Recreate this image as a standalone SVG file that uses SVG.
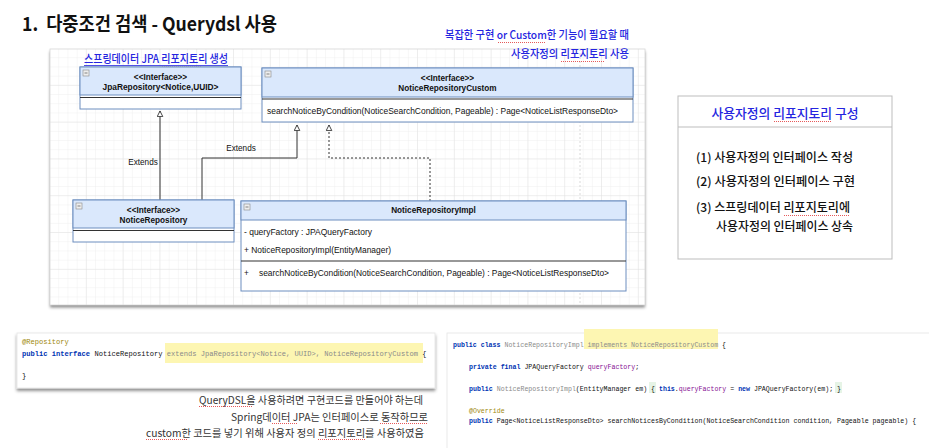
<svg xmlns="http://www.w3.org/2000/svg" width="929" height="448" viewBox="0 0 929 448">
<defs>
<pattern id="minor" width="9.2" height="9.2" patternUnits="userSpaceOnUse" x="50" y="49">
<path d="M9.2 0V9.2H0" fill="none" stroke="#ececec" stroke-width="0.8"/>
</pattern>
<pattern id="major" width="36.8" height="36.8" patternUnits="userSpaceOnUse" x="50" y="49">
<path d="M36.8 0V36.8H0" fill="none" stroke="#dedede" stroke-width="0.8"/>
</pattern>
<filter id="sh" x="-5%" y="-5%" width="110%" height="120%">
<feDropShadow dx="0" dy="2.5" stdDeviation="1.5" flood-color="#000" flood-opacity="0.45"/>
</filter>
<marker id="tri" viewBox="0 0 10 10" refX="9" refY="5" markerWidth="7" markerHeight="7" markerUnits="userSpaceOnUse" orient="auto">
<path d="M1 1L9 5L1 9Z" fill="#fff" stroke="#333" stroke-width="1.3"/>
</marker>
<style>
.hdr{fill:#dae8fc;stroke:#6c8ebf;stroke-width:1}
.body{fill:#fff;stroke:#6c8ebf;stroke-width:1}
.sep{stroke:#333;stroke-width:1.2}
.uml{font-family:"Liberation Sans",Arial,sans-serif;font-size:8.2px;fill:#111}
.b{font-weight:bold}
.ico{fill:#eee;stroke:#888;stroke-width:0.6}
.ln{fill:none;stroke:#333;stroke-width:1}
.kr{font-family:"Noto Sans CJK KR",sans-serif}
.blue{fill:#2424e0}
.rd{stroke:#e03030;stroke-width:0.8;stroke-dasharray:1 1}
.mono{font-family:"Liberation Mono","DejaVu Sans Mono",monospace}
.kw{fill:#0033b3;font-weight:bold}
.gr{fill:#8a8a8a}
.an{fill:#9e880d}
.pu{fill:#871094}
</style>
</defs>
<rect width="929" height="448" fill="#fff"/>

<!-- title -->
<text x="22" y="31" class="kr" font-size="19" font-weight="bold" fill="#111" textLength="255" lengthAdjust="spacingAndGlyphs">1.&#160;&#160;다중조건 검색 - Querydsl 사용</text>

<!-- grid panel -->
<g id="panel">
<rect x="50" y="49" width="595" height="256" fill="#fff" filter="url(#sh)"/>
<rect x="50" y="49" width="595" height="256" fill="url(#minor)"/>
<rect x="50" y="49" width="595" height="256" fill="url(#major)"/>
<rect x="50" y="49" width="595" height="256" fill="none" stroke="#d8d8d8" stroke-width="0.8"/>
<line x1="580" y1="49" x2="580" y2="305" stroke="#cfcfcf" stroke-width="0.8" stroke-dasharray="2 2"/>
</g>

<!-- blue annotations -->
<g id="note-top">
<text x="629" y="39" text-anchor="end" class="kr blue" font-size="11" font-weight="500" textLength="184" lengthAdjust="spacingAndGlyphs">복잡한 구현 or Custom한 기능이 필요할 때</text>
<text x="629" y="58" text-anchor="end" class="kr blue" font-size="11" font-weight="500" textLength="118" lengthAdjust="spacingAndGlyphs">사용자정의 리포지토리 사용</text>
<line x1="498" y1="42.5" x2="545" y2="42.5" class="rd"/>
<line x1="561" y1="61.5" x2="604" y2="61.5" class="rd"/>
</g>
<g id="note-jpa">
<text x="84" y="63" class="kr blue" font-size="11" font-weight="500" textLength="144" lengthAdjust="spacingAndGlyphs">스프링데이터 JPA 리포지토리 생성</text>
<line x1="84" y1="65.5" x2="228" y2="65.5" stroke="#2424e0" stroke-width="0.8"/>
<line x1="162" y1="67" x2="202" y2="67" class="rd"/>
</g>

<!-- connectors -->
<g id="connectors">
<path d="M160 200V111" class="ln" marker-end="url(#tri)"/>
<path d="M202 200V158H297V125" class="ln" marker-end="url(#tri)"/>
<path d="M430 201V158H329V125" class="ln" stroke-dasharray="2 2" marker-end="url(#tri)"/>
<text x="143" y="165" text-anchor="middle" class="uml" font-size="8.5">Extends</text>
<text x="241" y="151" text-anchor="middle" class="uml" font-size="8.5">Extends</text>
</g>

<!-- JpaRepository -->
<g id="jpa-repository">
<rect x="80" y="67" width="161" height="42" class="body"/>
<rect x="80" y="67" width="161" height="28" class="hdr"/>
<line x1="80" y1="97.5" x2="241" y2="97.5" class="sep"/>
<rect x="83" y="70" width="6" height="6" class="ico"/><line x1="84.5" y1="73" x2="87.5" y2="73" stroke="#555" stroke-width="0.7"/>
<text x="160.5" y="80" text-anchor="middle" class="uml b">&lt;&lt;Interface&gt;&gt;</text>
<text x="160.5" y="90" text-anchor="middle" class="uml b" textLength="116" lengthAdjust="spacingAndGlyphs">JpaRepository&lt;Notice,UUID&gt;</text>
</g>

<!-- NoticeRepositoryCustom -->
<g id="notice-repository-custom">
<rect x="262" y="68" width="371" height="54" class="body"/>
<rect x="262" y="68" width="371" height="29" class="hdr"/>
<line x1="262" y1="99" x2="633" y2="99" class="sep"/>
<rect x="265" y="71" width="6" height="6" class="ico"/><line x1="266.5" y1="74" x2="269.5" y2="74" stroke="#555" stroke-width="0.7"/>
<text x="447.5" y="81" text-anchor="middle" class="uml b">&lt;&lt;Interface&gt;&gt;</text>
<text x="447.5" y="90.5" text-anchor="middle" class="uml b">NoticeRepositoryCustom</text>
<text x="267" y="114" class="uml" textLength="351" lengthAdjust="spacingAndGlyphs">searchNoticeByCondition(NoticeSearchCondition, Pageable) : Page&lt;NoticeListResponseDto&gt;</text>
</g>

<!-- NoticeRepository -->
<g id="notice-repository">
<rect x="73" y="200" width="161" height="42" class="body"/>
<rect x="73" y="200" width="161" height="28" class="hdr"/>
<line x1="73" y1="230.5" x2="234" y2="230.5" class="sep"/>
<rect x="76" y="203" width="6" height="6" class="ico"/><line x1="77.5" y1="206" x2="80.5" y2="206" stroke="#555" stroke-width="0.7"/>
<text x="153.5" y="213" text-anchor="middle" class="uml b">&lt;&lt;Interface&gt;&gt;</text>
<text x="153.5" y="223" text-anchor="middle" class="uml b">NoticeRepository</text>
</g>

<!-- NoticeRepositoryImpl -->
<g id="notice-repository-impl">
<rect x="241" y="201" width="385" height="90" class="body"/>
<rect x="241" y="201" width="385" height="19" class="hdr"/>
<line x1="241" y1="261" x2="626" y2="261" class="sep"/>
<rect x="244" y="204" width="6" height="6" class="ico"/><line x1="245.5" y1="207" x2="248.5" y2="207" stroke="#555" stroke-width="0.7"/>
<text x="433.5" y="213" text-anchor="middle" class="uml b">NoticeRepositoryImpl</text>
<text x="244" y="235" class="uml" textLength="128" lengthAdjust="spacingAndGlyphs">- queryFactory : JPAQueryFactory</text>
<text x="244" y="253" class="uml" textLength="147" lengthAdjust="spacingAndGlyphs">+ NoticeRepositoryImpl(EntityManager)</text>
<text x="244" y="276" class="uml">+</text>
<text x="259" y="276" class="uml" textLength="350" lengthAdjust="spacingAndGlyphs">searchNoticeByCondition(NoticeSearchCondition, Pageable) : Page&lt;NoticeListResponseDto&gt;</text>
</g>

<!-- right summary box -->
<g id="summary">
<rect x="678" y="96" width="214" height="163" fill="#fff" stroke="#bdbdbd" stroke-width="1"/>
<line x1="678" y1="127" x2="892" y2="127" stroke="#bdbdbd" stroke-width="1"/>
<text x="785" y="117.5" text-anchor="middle" class="kr blue" font-size="13" font-weight="500" textLength="147" lengthAdjust="spacingAndGlyphs">사용자정의 리포지토리 구성</text>
<line x1="774" y1="121.5" x2="831" y2="121.5" class="rd"/>
<text x="696" y="162" class="kr" font-size="12" font-weight="500" fill="#111" textLength="157" lengthAdjust="spacingAndGlyphs">(1) 사용자정의 인터페이스 작성</text>
<text x="696" y="186" class="kr" font-size="12" font-weight="500" fill="#111" textLength="159" lengthAdjust="spacingAndGlyphs">(2) 사용자정의 인터페이스 구현</text>
<text x="696" y="212" class="kr" font-size="12" font-weight="500" fill="#111" textLength="154" lengthAdjust="spacingAndGlyphs">(3) 스프링데이터 리포지토리에</text>
<line x1="784" y1="215.5" x2="850" y2="215.5" class="rd"/>
<text x="716" y="231" class="kr" font-size="12" font-weight="500" fill="#111" textLength="137" lengthAdjust="spacingAndGlyphs">사용자정의 인터페이스 상속</text>
</g>

<!-- code block 1 -->
<g id="code-repository">
<rect x="17" y="333" width="418" height="55" fill="#fff" stroke="#e4e4e4" stroke-width="0.8" filter="url(#sh)"/>
<rect x="165" y="343" width="258" height="20" fill="#fdf6b2"/>
<text x="22" y="343.5" class="mono an" font-size="7.1">@Repository</text>
<text x="22" y="355.5" class="mono" font-size="7.1" fill="#111"><tspan class="kw">public interface</tspan> NoticeRepository <tspan class="gr">extends JpaRepository&lt;Notice, UUID&gt;, NoticeRepositoryCustom</tspan> {</text>
<text x="22" y="377.5" class="mono" font-size="7.1" fill="#111">}</text>
</g>

<!-- code block 2 -->
<g id="code-impl">
<rect x="447" y="333" width="490" height="130" fill="#fff" stroke="#e4e4e4" stroke-width="0.8"/>
<rect x="584" y="329" width="134" height="20" fill="#fdf6b2"/>
<rect x="649" y="382" width="7" height="11" fill="#e6f4e6"/>
<rect x="835" y="382" width="7" height="11" fill="#e6f4e6"/>
<text x="453" y="346.5" class="mono" font-size="6.6" fill="#111"><tspan class="kw">public class</tspan> <tspan class="gr">NoticeRepositoryImpl</tspan> <tspan class="gr">implements NoticeRepositoryCustom</tspan> {</text>
<text x="469" y="368.5" class="mono" font-size="6.6" fill="#111"><tspan class="kw">private final</tspan> JPAQueryFactory <tspan class="pu">queryFactory</tspan>;</text>
<text x="469" y="390.5" class="mono" font-size="6.6" fill="#111"><tspan class="kw">public</tspan> <tspan class="gr">NoticeRepositoryImpl</tspan>(EntityManager em) { <tspan class="kw">this</tspan>.<tspan class="pu">queryFactory</tspan> = <tspan class="kw">new</tspan> JPAQueryFactory(em); }</text>
<text x="469" y="412.5" class="mono an" font-size="6.6">@Override</text>
<text x="469" y="422.5" class="mono" font-size="6.6" fill="#111"><tspan class="kw">public</tspan> Page&lt;NoticeListResponseDto&gt; searchNoticesByCondition(NoticeSearchCondition condition, Pageable pageable) {</text>
</g>

<!-- caption -->
<g id="caption">
<text x="423" y="404" text-anchor="end" class="kr" font-size="10.5" fill="#333" textLength="224" lengthAdjust="spacingAndGlyphs">QueryDSL을 사용하려면 구현코드를 만들어야 하는데</text>
<text x="428" y="421" text-anchor="end" class="kr" font-size="10.5" fill="#333" textLength="197" lengthAdjust="spacingAndGlyphs">Spring데이터 JPA는 인터페이스로 동작하므로</text>
<text x="424" y="437" text-anchor="end" class="kr" font-size="10.5" fill="#333" textLength="278" lengthAdjust="spacingAndGlyphs">custom한 코드를 넣기 위해 사용자 정의 리포지토리를 사용하였음</text>
<line x1="199" y1="406.5" x2="253" y2="406.5" class="rd"/>
<line x1="272" y1="423.5" x2="297" y2="423.5" class="rd"/>
<line x1="380" y1="423.5" x2="428" y2="423.5" class="rd"/>
<line x1="146" y1="439.5" x2="187" y2="439.5" class="rd"/>
<line x1="318" y1="439.5" x2="365" y2="439.5" class="rd"/>
</g>
</svg>
